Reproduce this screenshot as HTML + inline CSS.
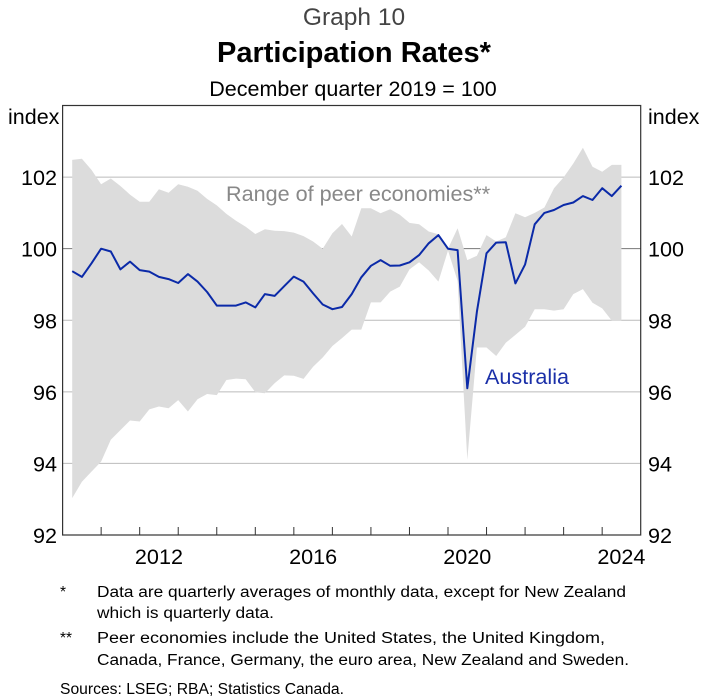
<!DOCTYPE html>
<html><head><meta charset="utf-8"><style>
html,body{margin:0;padding:0;background:#fff;}
svg{display:block;font-family:"Liberation Sans",Arial,sans-serif;}
</style></head><body>
<svg id="chart" width="712" height="699" viewBox="0 0 712 699" xmlns="http://www.w3.org/2000/svg">
<text x="354" y="25" text-anchor="middle" font-size="24.5" fill="#444">Graph 10</text>
<text x="354" y="62" text-anchor="middle" font-size="29" font-weight="bold" fill="#000">Participation Rates*</text>
<text x="353" y="96" text-anchor="middle" font-size="21.5" fill="#000">December quarter 2019 = 100</text>
<text x="8" y="124" font-size="21.5">index</text>
<text x="648" y="124" font-size="21.5">index</text>
<g id="grid"></g>
<g id="marks"></g>
<g id="axes"></g>
<text x="226" y="201" font-size="21.6" fill="#888">Range of peer economies**</text>
<text x="485" y="384" font-size="21.6" fill="#1a2fa8">Australia</text>
<g font-size="15.5" fill="#000">
<text x="60" y="597">*</text>
<text x="97" y="597" textLength="529" lengthAdjust="spacingAndGlyphs">Data are quarterly averages of monthly data, except for New Zealand</text>
<text x="97" y="618" textLength="177" lengthAdjust="spacingAndGlyphs">which is quarterly data.</text>
<text x="60" y="643">**</text>
<text x="97" y="643" textLength="508" lengthAdjust="spacingAndGlyphs">Peer economies include the United States, the United Kingdom,</text>
<text x="97" y="665" textLength="532" lengthAdjust="spacingAndGlyphs">Canada, France, Germany, the euro area, New Zealand and Sweden.</text>
<text x="60" y="694" textLength="284" lengthAdjust="spacingAndGlyphs">Sources: LSEG; RBA; Statistics Canada.</text>
</g>
</svg>
<script>
const startYear = 2010;
const yTicks = [92,94,96,98,100,102];
const xLabels = [2012,2016,2020,2024];
const australia = [99.37,99.21,99.59,100.0,99.92,99.42,99.64,99.4,99.36,99.21,99.15,99.04,99.29,99.08,98.79,98.41,98.41,98.41,98.5,98.36,98.73,98.68,98.95,99.22,99.08,98.75,98.44,98.31,98.37,98.73,99.2,99.52,99.68,99.52,99.53,99.62,99.82,100.15,100.38,100.0,99.96,96.1,98.24,99.87,100.17,100.18,99.03,99.56,100.68,101.0,101.08,101.22,101.29,101.47,101.36,101.69,101.47,101.76];
const rangeHigh = [102.48,102.51,102.2,101.8,101.96,101.75,101.51,101.31,101.31,101.66,101.56,101.8,101.73,101.62,101.39,101.21,100.97,100.78,100.61,100.41,100.54,100.5,100.49,100.45,100.35,100.2,100.0,100.43,100.69,100.34,101.13,101.13,100.99,101.1,100.95,100.72,100.68,100.48,100.4,100.0,100.57,99.68,99.8,100.38,100.2,100.32,100.99,100.88,101.0,101.15,101.69,101.99,102.38,102.82,102.29,102.15,102.34,102.34];
const rangeLow = [93.03,93.49,93.77,94.05,94.66,94.93,95.2,95.17,95.51,95.59,95.54,95.77,95.45,95.79,95.94,95.91,96.33,96.37,96.35,95.99,95.96,96.24,96.46,96.45,96.36,96.7,96.96,97.28,97.5,97.74,97.74,98.5,98.5,98.8,98.94,99.42,99.62,99.39,99.08,99.95,99.1,94.1,97.24,97.24,97.0,97.37,97.59,97.82,98.31,98.31,98.27,98.31,98.73,98.87,98.49,98.33,97.99,97.99];

const NS='http://www.w3.org/2000/svg';
const L=62.6, R=640.7, T=105.5, B=535;
const x = t => L + (t-2010)*(R-L)/15;
const y = v => B - (v-92)*(B-T)/12;
const qx = i => x(startYear + 0.25*(i+1));
function mk(tag, attrs, parent){const e=document.createElementNS(NS,tag);for(const k in attrs)e.setAttribute(k,attrs[k]);parent.appendChild(e);return e;}
const grid=document.getElementById('grid'), marks=document.getElementById('marks'), axes=document.getElementById('axes');

yTicks.forEach(v=>{
  if(v>92){
    const gl=mk('line',{x1:L,x2:R,y1:y(v),y2:y(v),stroke:v===100?'#777':'#bbb','stroke-width':1},grid);
    
    
  }
  const a=mk('text',{x:57,y:y(v)+8,'text-anchor':'end','font-size':21.6},axes);a.textContent=v;
  
  
  const b=mk('text',{x:648,y:y(v)+8,'font-size':21.6},axes);b.textContent=v;
  
  
});

let d='';
rangeHigh.forEach((v,i)=>{d+=(i?'L':'M')+qx(i).toFixed(1)+','+y(v).toFixed(1);});
for(let i=rangeLow.length-1;i>=0;i--){d+='L'+qx(i).toFixed(1)+','+y(rangeLow[i]).toFixed(1);}
const area=mk('path',{d:d+'Z',fill:'#dcdcdc',stroke:'none'},marks);



const pts=australia.map((v,i)=>qx(i).toFixed(1)+','+y(v).toFixed(1)).join(' ');
const line=mk('polyline',{points:pts,fill:'none',stroke:'#0b2aa8','stroke-width':2,'stroke-linejoin':'round'},marks);



for(let yr=2011; yr<2025; yr++){
  const t=mk('line',{x1:x(yr),x2:x(yr),y1:B,y2:B-8,stroke:'#333','stroke-width':1},axes);
  
  
}
xLabels.forEach(yr=>{
  const t=mk('text',{x:x(yr+0.5),y:564,'text-anchor':'middle','font-size':21.6},axes);t.textContent=yr;
  
  
});
const frame=mk('rect',{x:L,y:T,width:R-L,height:B-T,fill:'none',stroke:'#333','stroke-width':1.2},axes);


</script>
</body></html>
